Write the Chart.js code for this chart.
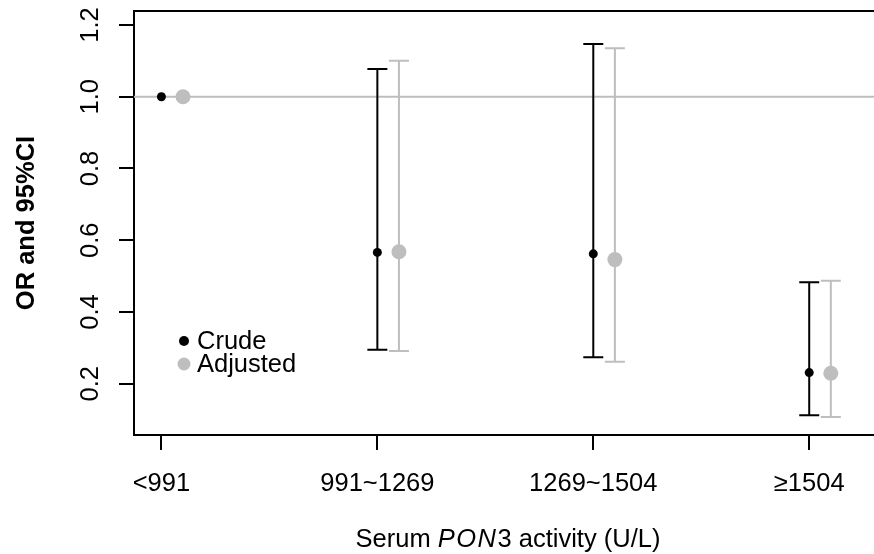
<!DOCTYPE html>
<html>
<head>
<meta charset="utf-8">
<script src="https://cdn.jsdelivr.net/npm/chart.js@4.4.1/dist/chart.umd.min.js"></script>
<style>
  html, body { margin: 0; padding: 0; background: #ffffff; overflow: hidden; }
  #wrap { width: 874px; height: 554px; position: relative; }
</style>
</head>
<body>
<div id="wrap"><canvas id="c"></canvas></div>
<script>
// ---------- data ----------
const categories = ['<991', '991~1269', '1269~1504', '\u22651504'];
const crudeOR = [1.000, 0.566, 0.562, 0.231];
const crudeLo = [null, 0.295, 0.274, 0.112];
const crudeHi = [null, 1.077, 1.147, 0.483];
const adjOR   = [1.000, 0.568, 0.546, 0.229];
const adjLo   = [null, 0.291, 0.261, 0.107];
const adjHi   = [null, 1.100, 1.135, 0.487];
const yTicks  = [0.2, 0.4, 0.6, 0.8, 1.0, 1.2];
const refValue = 1.0;

// ---------- styling / layout ----------
const FONT = "'Liberation Sans', Arial, Helvetica, sans-serif";
const FS = 25.5;
const GRAY = '#BEBEBE';
const ADJ_OFFSET = 0.1;
const CAP = 10;

const crudeData = crudeOR.map((v, i) => ({ x: i + 1, y: v }));
const adjData = adjOR.map((v, i) => ({ x: i + 1 + ADJ_OFFSET, y: v }));

const errorBars = {
  id: 'errorBars',
  beforeDatasetsDraw(chart) {
    const { ctx, chartArea, scales: { x, y } } = chart;
    ctx.save();
    // reference line
    ctx.strokeStyle = GRAY;
    ctx.lineWidth = 2;
    const ry = y.getPixelForValue(refValue);
    ctx.beginPath(); ctx.moveTo(chartArea.left, ry); ctx.lineTo(chartArea.right, ry); ctx.stroke();
    // top border
    ctx.strokeStyle = '#000'; ctx.lineWidth = 2;
    ctx.beginPath(); ctx.moveTo(chartArea.left - 1, chartArea.top); ctx.lineTo(chartArea.right, chartArea.top); ctx.stroke();
    const sets = [
      { data: crudeData, lo: crudeLo, hi: crudeHi, color: '#000000' },
      { data: adjData, lo: adjLo, hi: adjHi, color: GRAY }
    ];
    sets.forEach(s => {
      ctx.strokeStyle = s.color;
      ctx.lineWidth = 2;
      s.data.forEach((p, i) => {
        if (s.lo[i] == null || s.hi[i] == null) return;
        const px = x.getPixelForValue(p.x);
        const yl = y.getPixelForValue(s.lo[i]);
        const yh = y.getPixelForValue(s.hi[i]);
        ctx.beginPath();
        ctx.moveTo(px, yl); ctx.lineTo(px, yh);
        ctx.moveTo(px - CAP, yh); ctx.lineTo(px + CAP, yh);
        ctx.moveTo(px - CAP, yl); ctx.lineTo(px + CAP, yl);
        ctx.stroke();
      });
    });
    ctx.restore();
  },
  afterDraw(chart) {
    const { ctx, scales: { y } } = chart;
    ctx.save();
    ctx.fillStyle = '#000';
    ctx.font = FS + 'px ' + FONT;
    // rotated y tick labels
    yTicks.forEach(v => {
      const py = y.getPixelForValue(v);
      ctx.save();
      ctx.translate(98, py);
      ctx.rotate(-Math.PI / 2);
      ctx.textAlign = 'center';
      ctx.textBaseline = 'alphabetic';
      ctx.fillText(v.toFixed(1), 0, 0);
      ctx.restore();
    });
    // legend
    const ds = chart.data.datasets;
    const leg = [{ y: 341, r: 5 }, { y: 364, r: 6.5 }];
    ds.forEach((d, i) => {
      ctx.fillStyle = d.backgroundColor;
      ctx.beginPath(); ctx.arc(184, leg[i].y, leg[i].r, 0, Math.PI * 2); ctx.fill();
      ctx.fillStyle = '#000';
      ctx.textAlign = 'left';
      ctx.textBaseline = 'middle';
      ctx.fillText(d.label, 197, leg[i].y + 1);
    });
    // x axis title with italic gene name
    const parts = [
      { t: 'Serum ', it: false, gap: 0 },
      { t: 'P', it: true, gap: 1.5 },
      { t: 'O', it: true, gap: 1.5 },
      { t: 'N', it: true, gap: 1.5 },
      { t: '3 activity (U/L)', it: false, gap: 0 }
    ];
    let total = 0;
    parts.forEach(p => {
      ctx.font = (p.it ? 'italic ' : '') + FS + 'px ' + FONT;
      p.w = ctx.measureText(p.t).width + p.gap;
      total += p.w;
    });
    let cx = 508 - total / 2;
    ctx.textAlign = 'left';
    ctx.textBaseline = 'alphabetic';
    parts.forEach(p => {
      ctx.font = (p.it ? 'italic ' : '') + FS + 'px ' + FONT;
      ctx.fillText(p.t, cx, 547);
      cx += p.w;
    });
    ctx.restore();
  }
};

new Chart(document.getElementById('c'), {
  type: 'scatter',
  data: {
    datasets: [
      { label: 'Crude', data: crudeData, backgroundColor: '#000000', borderWidth: 0,
        pointRadius: 4.5, pointHoverRadius: 4.5 },
      { label: 'Adjusted', data: adjData, backgroundColor: GRAY, borderWidth: 0,
        pointRadius: 7.5, pointHoverRadius: 7.5 }
    ]
  },
  options: {
    responsive: true,
    maintainAspectRatio: false,
    animation: false,
    events: [],
    layout: { autoPadding: false, padding: { top: 11, left: 0, right: 0, bottom: 0 } },
    plugins: { legend: { display: false }, tooltip: { enabled: false } },
    scales: {
      x: {
        type: 'linear',
        min: 0.873,
        max: 4.30,
        afterBuildTicks: s => { s.ticks = categories.map((c, i) => ({ value: i + 1 })); },
        afterFit: s => { s.height = 119; s.paddingLeft = 0; s.paddingRight = 0; },
        ticks: {
          autoSkip: false, maxRotation: 0, minRotation: 0,
          color: '#000', padding: 19,
          font: { family: FONT, size: FS },
          callback: v => categories[Math.round(v) - 1]
        },
        grid: { drawOnChartArea: false, drawTicks: true, tickLength: 15, color: '#000', lineWidth: 2 },
        border: { display: true, color: '#000', width: 2 }
      },
      y: {
        type: 'linear',
        min: 0.057,
        max: 1.239,
        afterBuildTicks: s => { s.ticks = yTicks.map(v => ({ value: v })); },
        afterFit: s => { s.width = 134; s.paddingTop = 0; s.paddingBottom = 0; },
        ticks: { display: false },
        grid: { drawOnChartArea: false, drawTicks: true, tickLength: 15, color: '#000', lineWidth: 2 },
        border: { display: true, color: '#000', width: 2 },
        title: {
          display: true, text: 'OR and 95%CI', color: '#000',
          font: { family: FONT, size: FS, weight: 'bold', lineHeight: 1.2 },
          padding: { top: 11.7, bottom: 0 }
        }
      }
    }
  },
  plugins: [errorBars]
});
</script>
</body>
</html>
